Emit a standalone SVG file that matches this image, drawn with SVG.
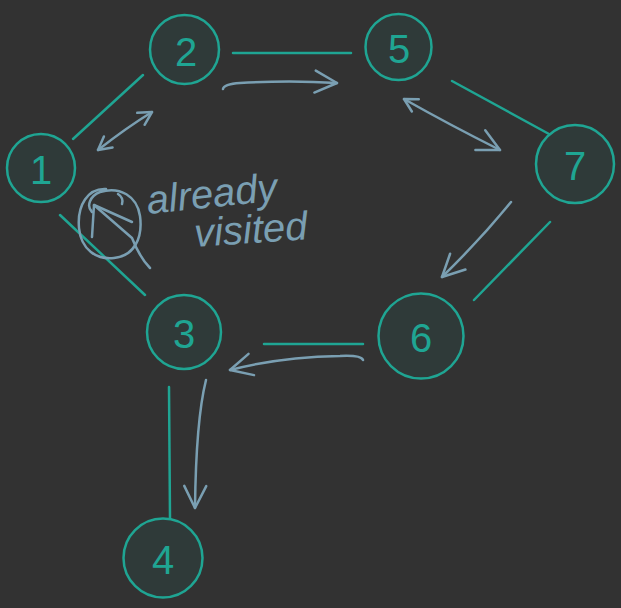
<svg xmlns="http://www.w3.org/2000/svg" width="621" height="608" viewBox="0 0 621 608">
  <defs>
    <style>
      .node circle { fill: #2f3a39; stroke: #1fa593; stroke-width: 2.5; }
      .node text { fill: #1fa593; font-family: "Liberation Sans", Arial, sans-serif; font-size: 40px; text-anchor: middle; dominant-baseline: central; }
      .edge { stroke: #1fa593; stroke-width: 2.5; fill: none; stroke-linecap: round; }
      .trav { stroke: #7a9fb2; stroke-width: 2.5; fill: none; stroke-linecap: round; stroke-linejoin: round; }
      .note { fill: #7a9fb2; font-family: "Liberation Sans", Arial, sans-serif; font-style: italic; font-size: 40px; }
    </style>
    <marker id="head" markerUnits="userSpaceOnUse" viewBox="-24 -14 28 28" refX="0" refY="0" markerWidth="28" markerHeight="28" orient="auto-start-reverse">
      <path d="M-22,-11 L0,0 L-22,11" fill="none" stroke="#7a9fb2" stroke-width="2.5" stroke-linecap="round" stroke-linejoin="round"/>
    </marker>
    <marker id="headS" markerUnits="userSpaceOnUse" viewBox="-16 -10 20 20" refX="0" refY="0" markerWidth="20" markerHeight="20" orient="auto-start-reverse">
      <path d="M-13,-7 L0,0 L-13,7" fill="none" stroke="#7a9fb2" stroke-width="2.5" stroke-linecap="round" stroke-linejoin="round"/>
    </marker>
  </defs>
  <rect width="621" height="608" fill="#323232"/>

  <g id="connectors">
    <line class="edge" x1="73" y1="139" x2="143" y2="75"/>
    <line class="edge" x1="60" y1="215" x2="145" y2="295"/>
    <line class="edge" x1="233" y1="53" x2="351" y2="53"/>
    <line class="edge" x1="452" y1="81" x2="549" y2="134"/>
    <line class="edge" x1="550" y1="222" x2="474" y2="300"/>
    <line class="edge" x1="264" y1="344" x2="363" y2="344"/>
    <line class="edge" x1="169" y1="387" x2="170" y2="518"/>

    <path class="trav" d="M98,150 Q126,128 152,112" marker-start="url(#headS)" marker-end="url(#headS)"/>
    <path class="trav" d="M223,89 Q224,84 240,83 Q290,80 337,83" marker-end="url(#head)"/>
    <path class="trav" d="M404,99 Q450,125 500,150" marker-start="url(#headS)" marker-end="url(#head)"/>
    <path class="trav" d="M511,202 Q480,240 442,277" marker-end="url(#head)"/>
    <path class="trav" d="M363,360 Q361,355 340,356 Q280,357 230,370" marker-end="url(#head)"/>
    <path class="trav" d="M206,380 Q196,420 195,508" marker-end="url(#head)"/>
  </g>

  <g id="node-1" class="node"><circle cx="41" cy="168" r="34"/><text x="41" y="170">1</text></g>
  <g id="node-2" class="node"><circle cx="184.5" cy="49.5" r="34.5"/><text x="186" y="52">2</text></g>
  <g id="node-5" class="node"><circle cx="398.5" cy="47" r="33"/><text x="399" y="49">5</text></g>
  <g id="node-7" class="node"><circle cx="575" cy="164" r="39"/><text x="575" y="166">7</text></g>
  <g id="node-3" class="node"><circle cx="184" cy="332" r="37"/><text x="184" y="334">3</text></g>
  <g id="node-6" class="node"><circle cx="421" cy="336" r="42.5"/><text x="421" y="338">6</text></g>
  <g id="node-4" class="node"><circle cx="163" cy="558" r="39.5"/><text x="163" y="560">4</text></g>

  <g id="annotation">
    <path class="trav" d="M106,189 C88,188 77,205 79,228 C81,250 97,260 114,258 C134,256 143,238 140,216 C137,196 120,186 100,192 C90,196 86,206 92,212"/>
    <path class="trav" d="M150,268 Q140,258 132,238 L94,205"/>
    <path class="trav" d="M92,237 L94,205 L132,222"/>
    <path class="trav" d="M118,194 Q124,198 122,204"/>
    <text class="note" x="148" y="214" transform="rotate(-6 148 214)">already</text>
    <text class="note" x="195" y="247" transform="rotate(-4 195 247)">visited</text>
  </g>
</svg>
